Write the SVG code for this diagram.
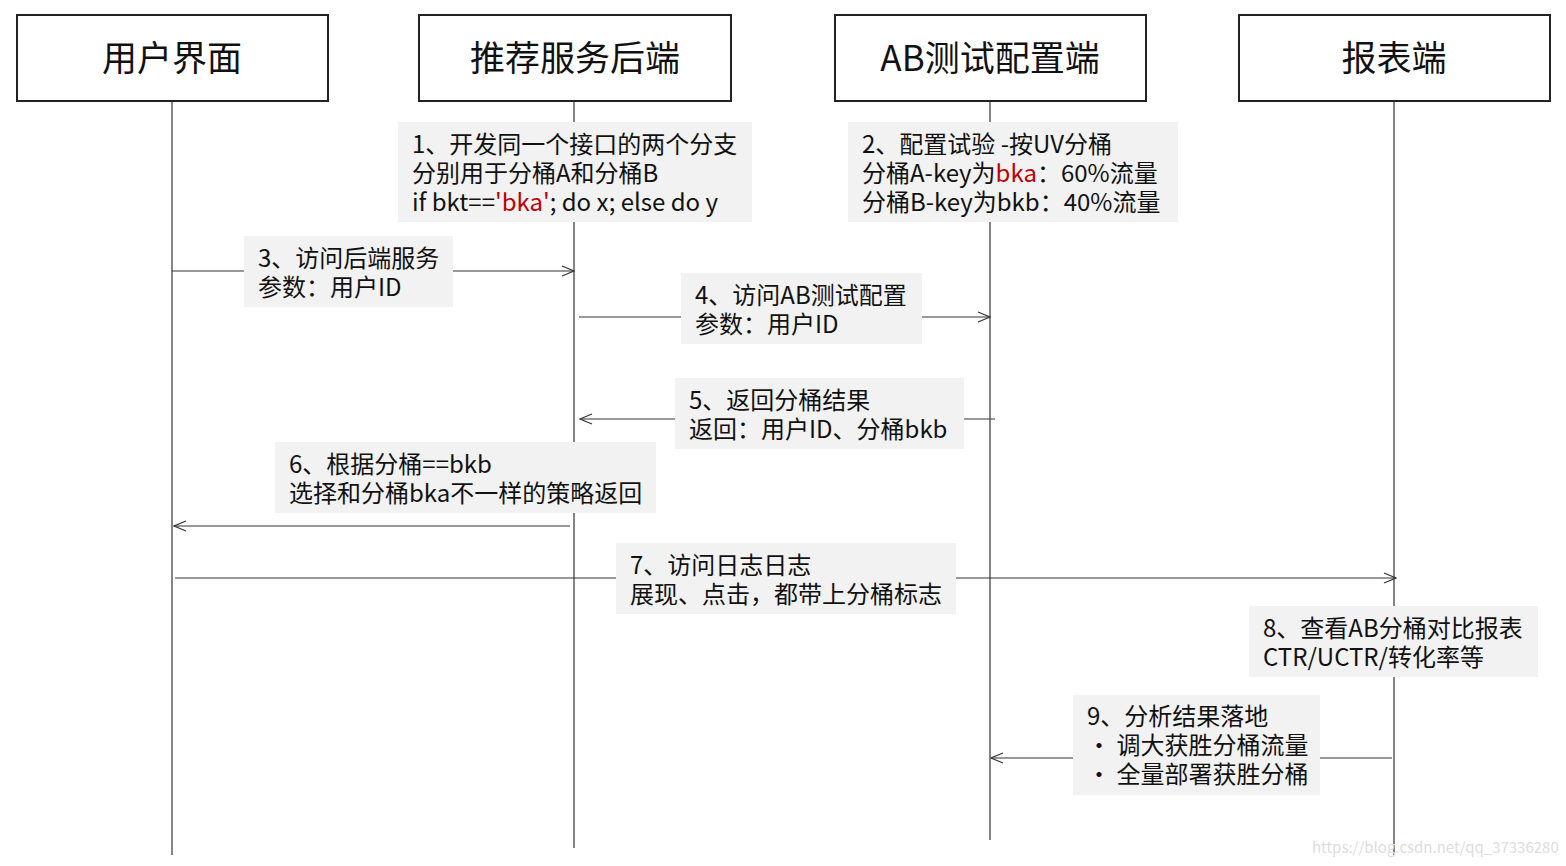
<svg xmlns="http://www.w3.org/2000/svg" width="1566" height="866" viewBox="0 0 1566 866">
<style>
text{font-family:"Noto Sans CJK SC","Noto Sans",sans-serif;fill:#111}
.h{font-size:35px;text-anchor:middle}
.t{font-size:24px}
.hb{fill:#fff;stroke:#222;stroke-width:2}
.nb{fill:#f2f2f2}
.l{stroke:#333;stroke-width:1.2;fill:none}
.r{fill:#c00000}
</style>
<defs><marker id="a" markerWidth="14" markerHeight="12" refX="13" refY="6" orient="auto" markerUnits="userSpaceOnUse"><path d="M1,1 L13,6 L1,11" fill="none" stroke="#333" stroke-width="1.2"/></marker></defs>
<rect width="1566" height="866" fill="#fff"/>
<g id="lifelines">
<line class="l" x1="172" y1="101" x2="172" y2="855"/>
<line class="l" x1="574" y1="101" x2="574" y2="848"/>
<line class="l" x1="990" y1="101" x2="990" y2="840"/>
<line class="l" x1="1394" y1="101" x2="1394" y2="855"/>
</g>
<g id="n-ui"><rect class="hb" x="17" y="15" width="311" height="86"/><text class="h" x="172" y="71">用户界面</text></g>
<g id="n-backend"><rect class="hb" x="419" y="15" width="312" height="86"/><text class="h" x="575" y="71">推荐服务后端</text></g>
<g id="n-ab"><rect class="hb" x="835" y="15" width="311" height="86"/><text class="h" x="990" y="71">AB测试配置端</text></g>
<g id="n-report"><rect class="hb" x="1239" y="15" width="311" height="86"/><text class="h" x="1394" y="71">报表端</text></g>
<g id="connectors">
<line class="l" x1="172" y1="271" x2="574" y2="271" marker-end="url(#a)"/>
<line class="l" x1="579" y1="317" x2="990" y2="317" marker-end="url(#a)"/>
<line class="l" x1="995" y1="419" x2="580" y2="419" marker-end="url(#a)"/>
<line class="l" x1="570" y1="526" x2="174" y2="526" marker-end="url(#a)"/>
<line class="l" x1="175" y1="578" x2="1396" y2="578" marker-end="url(#a)"/>
<line class="l" x1="1392" y1="758" x2="991" y2="758" marker-end="url(#a)"/>
</g>
<g id="note1"><rect class="nb" x="398" y="122" width="354" height="100"/>
<text class="t" x="412" y="153">1、开发同一个接口的两个分支</text>
<text class="t" x="412" y="182">分别用于分桶A和分桶B</text>
<text class="t" x="412" y="211">if bkt==<tspan class="r">'bka'</tspan>; do x; else do y</text></g>
<g id="note2"><rect class="nb" x="848" y="122" width="330" height="100"/>
<text class="t" x="862" y="153">2、配置试验 -按UV分桶</text>
<text class="t" x="862" y="182">分桶A-key为<tspan class="r">bka</tspan>：60%流量</text>
<text class="t" x="862" y="211">分桶B-key为bkb：40%流量</text></g>
<g id="note3"><rect class="nb" x="244" y="236" width="209" height="71"/>
<text class="t" x="258" y="267">3、访问后端服务</text>
<text class="t" x="258" y="296">参数：用户ID</text></g>
<g id="note4"><rect class="nb" x="681" y="273" width="241" height="71"/>
<text class="t" x="695" y="304">4、访问AB测试配置</text>
<text class="t" x="695" y="333">参数：用户ID</text></g>
<g id="note5"><rect class="nb" x="675" y="378" width="289" height="71"/>
<text class="t" x="689" y="409">5、返回分桶结果</text>
<text class="t" x="689" y="438">返回：用户ID、分桶bkb</text></g>
<g id="note6"><rect class="nb" x="275" y="442" width="381" height="71"/>
<text class="t" x="289" y="473">6、根据分桶==bkb</text>
<text class="t" x="289" y="502">选择和分桶bka不一样的策略返回</text></g>
<g id="note7"><rect class="nb" x="616" y="543" width="340" height="71"/>
<text class="t" x="630" y="574">7、访问日志日志</text>
<text class="t" x="630" y="603">展现、点击，都带上分桶标志</text></g>
<g id="note8"><rect class="nb" x="1249" y="606" width="289" height="71"/>
<text class="t" x="1263" y="637">8、查看AB分桶对比报表</text>
<text class="t" x="1263" y="666">CTR/UCTR/转化率等</text></g>
<g id="note9"><rect class="nb" x="1073" y="695" width="247" height="100"/>
<text class="t" x="1087" y="725">9、分析结果落地</text>
<text class="t" x="1087" y="754">•  调大获胜分桶流量</text>
<text class="t" x="1087" y="783">•  全量部署获胜分桶</text></g>
<text x="1312" y="853" style="font-size:15px;fill:#ddd">https://blog.csdn.net/qq_37336280</text>
</svg>
